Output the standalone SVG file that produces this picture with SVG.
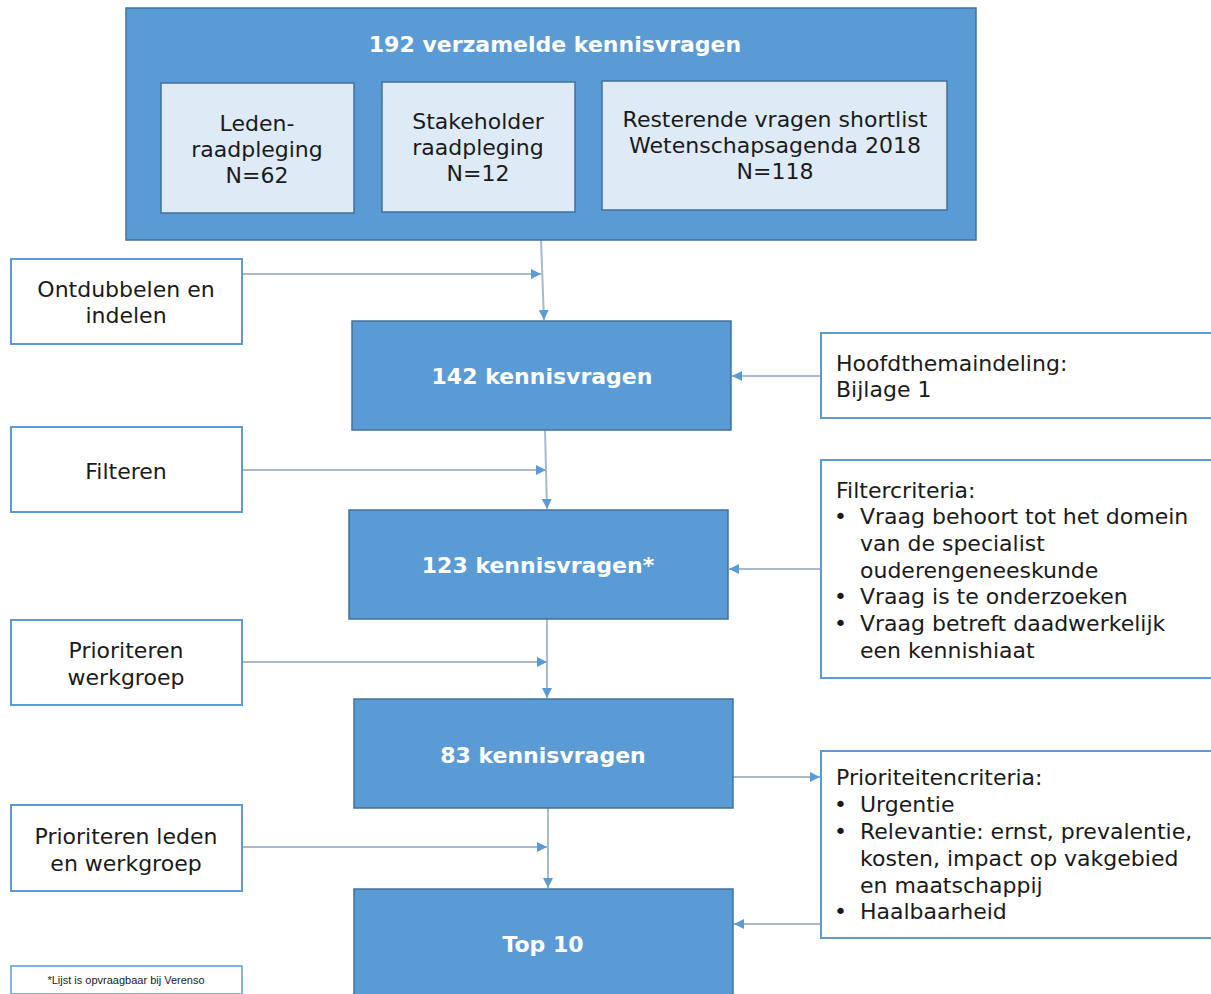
<svg xmlns="http://www.w3.org/2000/svg" width="1211" height="994" viewBox="0 0 1211 994">
<style>
.blue{fill:#5B9BD5;stroke:#41719C;stroke-width:1.5}
.light{fill:#DEEBF7;stroke:#41719C;stroke-width:1.5}
.white{fill:#FFFFFF;stroke:#5B9BD5;stroke-width:2}
.t{font-family:"DejaVu Sans",Verdana,sans-serif;font-size:22px;fill:#1a1a1a}
.c{text-anchor:middle}
.b{font-family:"DejaVu Sans",Verdana,sans-serif;font-size:22px;font-weight:bold;fill:#FFFFFF;text-anchor:middle}
.ln{stroke:#A9B9CB;stroke-width:2;fill:none}
.fn{font-family:"Liberation Sans",Arial,sans-serif;font-size:11px;fill:#1a1a1a;text-anchor:middle}
</style>
<defs>
<marker id="ah" viewBox="0 0 10 10" refX="10" refY="5" markerWidth="10" markerHeight="10" markerUnits="userSpaceOnUse" orient="auto">
<path d="M0,0 L10,5 L0,10 Z" fill="#5B9BD5"/>
</marker>
</defs>
<rect width="1211" height="994" fill="#FFFFFF"/>

<g id="connectors">
<line class="ln" x1="541" y1="240" x2="544" y2="320" marker-end="url(#ah)"/>
<line class="ln" x1="242" y1="274" x2="541" y2="274" marker-end="url(#ah)"/>
<line class="ln" x1="545" y1="430" x2="547" y2="509" marker-end="url(#ah)"/>
<line class="ln" x1="242" y1="470" x2="546" y2="470" marker-end="url(#ah)"/>
<line class="ln" x1="547" y1="619" x2="547" y2="698" marker-end="url(#ah)"/>
<line class="ln" x1="242" y1="662" x2="547" y2="662" marker-end="url(#ah)"/>
<line class="ln" x1="548" y1="808" x2="548" y2="888" marker-end="url(#ah)"/>
<line class="ln" x1="242" y1="847" x2="547" y2="847" marker-end="url(#ah)"/>
<line class="ln" x1="821" y1="376" x2="732" y2="376" marker-end="url(#ah)"/>
<line class="ln" x1="821" y1="569" x2="729" y2="569" marker-end="url(#ah)"/>
<line class="ln" x1="733" y1="777" x2="820" y2="777" marker-end="url(#ah)"/>
<line class="ln" x1="821" y1="924" x2="734" y2="924" marker-end="url(#ah)"/>
</g>

<g id="top">
<rect class="blue" x="126" y="8" width="850" height="232"/>
<text class="b" x="555" y="52">192 verzamelde kennisvragen</text>
</g>
<g id="leden">
<rect class="light" x="161" y="83" width="193" height="130"/>
<text class="t c" x="257" y="131">Leden-</text>
<text class="t c" x="257" y="157">raadpleging</text>
<text class="t c" x="257" y="183">N=62</text>
</g>
<g id="stakeholder">
<rect class="light" x="382" y="82" width="193" height="130"/>
<text class="t c" x="478" y="129">Stakeholder</text>
<text class="t c" x="478" y="155">raadpleging</text>
<text class="t c" x="478" y="181">N=12</text>
</g>
<g id="resterende">
<rect class="light" x="602" y="81" width="345" height="129"/>
<text class="t c" x="775" y="127">Resterende vragen shortlist</text>
<text class="t c" x="775" y="153">Wetenschapsagenda 2018</text>
<text class="t c" x="775" y="179">N=118</text>
</g>

<g id="ontdubbelen">
<rect class="white" x="11" y="259" width="231" height="85"/>
<text class="t c" x="126" y="297">Ontdubbelen en</text>
<text class="t c" x="126" y="323">indelen</text>
</g>
<g id="filteren">
<rect class="white" x="11" y="427" width="231" height="85"/>
<text class="t c" x="126" y="479">Filteren</text>
</g>
<g id="prioriteren-werkgroep">
<rect class="white" x="11" y="620" width="231" height="85"/>
<text class="t c" x="126" y="658">Prioriteren</text>
<text class="t c" x="126" y="685">werkgroep</text>
</g>
<g id="prioriteren-leden">
<rect class="white" x="11" y="805" width="231" height="86"/>
<text class="t c" x="126" y="844">Prioriteren leden</text>
<text class="t c" x="126" y="871">en werkgroep</text>
</g>
<g id="footnote">
<rect class="white" x="11" y="966" width="231" height="28" style="stroke-width:1.5"/>
<text class="fn" x="126" y="984">*Lijst is opvraagbaar bij Verenso</text>
</g>

<g id="k142">
<rect class="blue" x="352" y="321" width="379" height="109"/>
<text class="b" x="542" y="384">142 kennisvragen</text>
</g>
<g id="k123">
<rect class="blue" x="349" y="510" width="379" height="109"/>
<text class="b" x="538" y="573">123 kennisvragen*</text>
</g>
<g id="k83">
<rect class="blue" x="354" y="699" width="379" height="109"/>
<text class="b" x="543" y="763">83 kennisvragen</text>
</g>
<g id="top10">
<rect class="blue" x="354" y="889" width="379" height="110"/>
<text class="b" x="543" y="952">Top 10</text>
</g>

<g id="hoofdthema">
<rect class="white" x="821" y="333" width="395" height="85"/>
<text class="t" x="836" y="371">Hoofdthemaindeling:</text>
<text class="t" x="836" y="397">Bijlage 1</text>
</g>
<g id="filtercriteria">
<rect class="white" x="821" y="460" width="395" height="218"/>
<text class="t" x="836" y="498">Filtercriteria:</text>
<text class="t" x="834" y="524">•</text><text class="t" x="860" y="524">Vraag behoort tot het domein</text>
<text class="t" x="860" y="551">van de specialist</text>
<text class="t" x="860" y="578">ouderengeneeskunde</text>
<text class="t" x="834" y="604">•</text><text class="t" x="860" y="604">Vraag is te onderzoeken</text>
<text class="t" x="834" y="631">•</text><text class="t" x="860" y="631">Vraag betreft daadwerkelijk</text>
<text class="t" x="860" y="658">een kennishiaat</text>
</g>
<g id="prioriteitencriteria">
<rect class="white" x="821" y="751" width="395" height="187"/>
<text class="t" x="836" y="785">Prioriteitencriteria:</text>
<text class="t" x="834" y="812">•</text><text class="t" x="860" y="812">Urgentie</text>
<text class="t" x="834" y="839">•</text><text class="t" x="860" y="839">Relevantie: ernst, prevalentie,</text>
<text class="t" x="860" y="866">kosten, impact op vakgebied</text>
<text class="t" x="860" y="893">en maatschappij</text>
<text class="t" x="834" y="919">•</text><text class="t" x="860" y="919">Haalbaarheid</text>
</g>
</svg>
